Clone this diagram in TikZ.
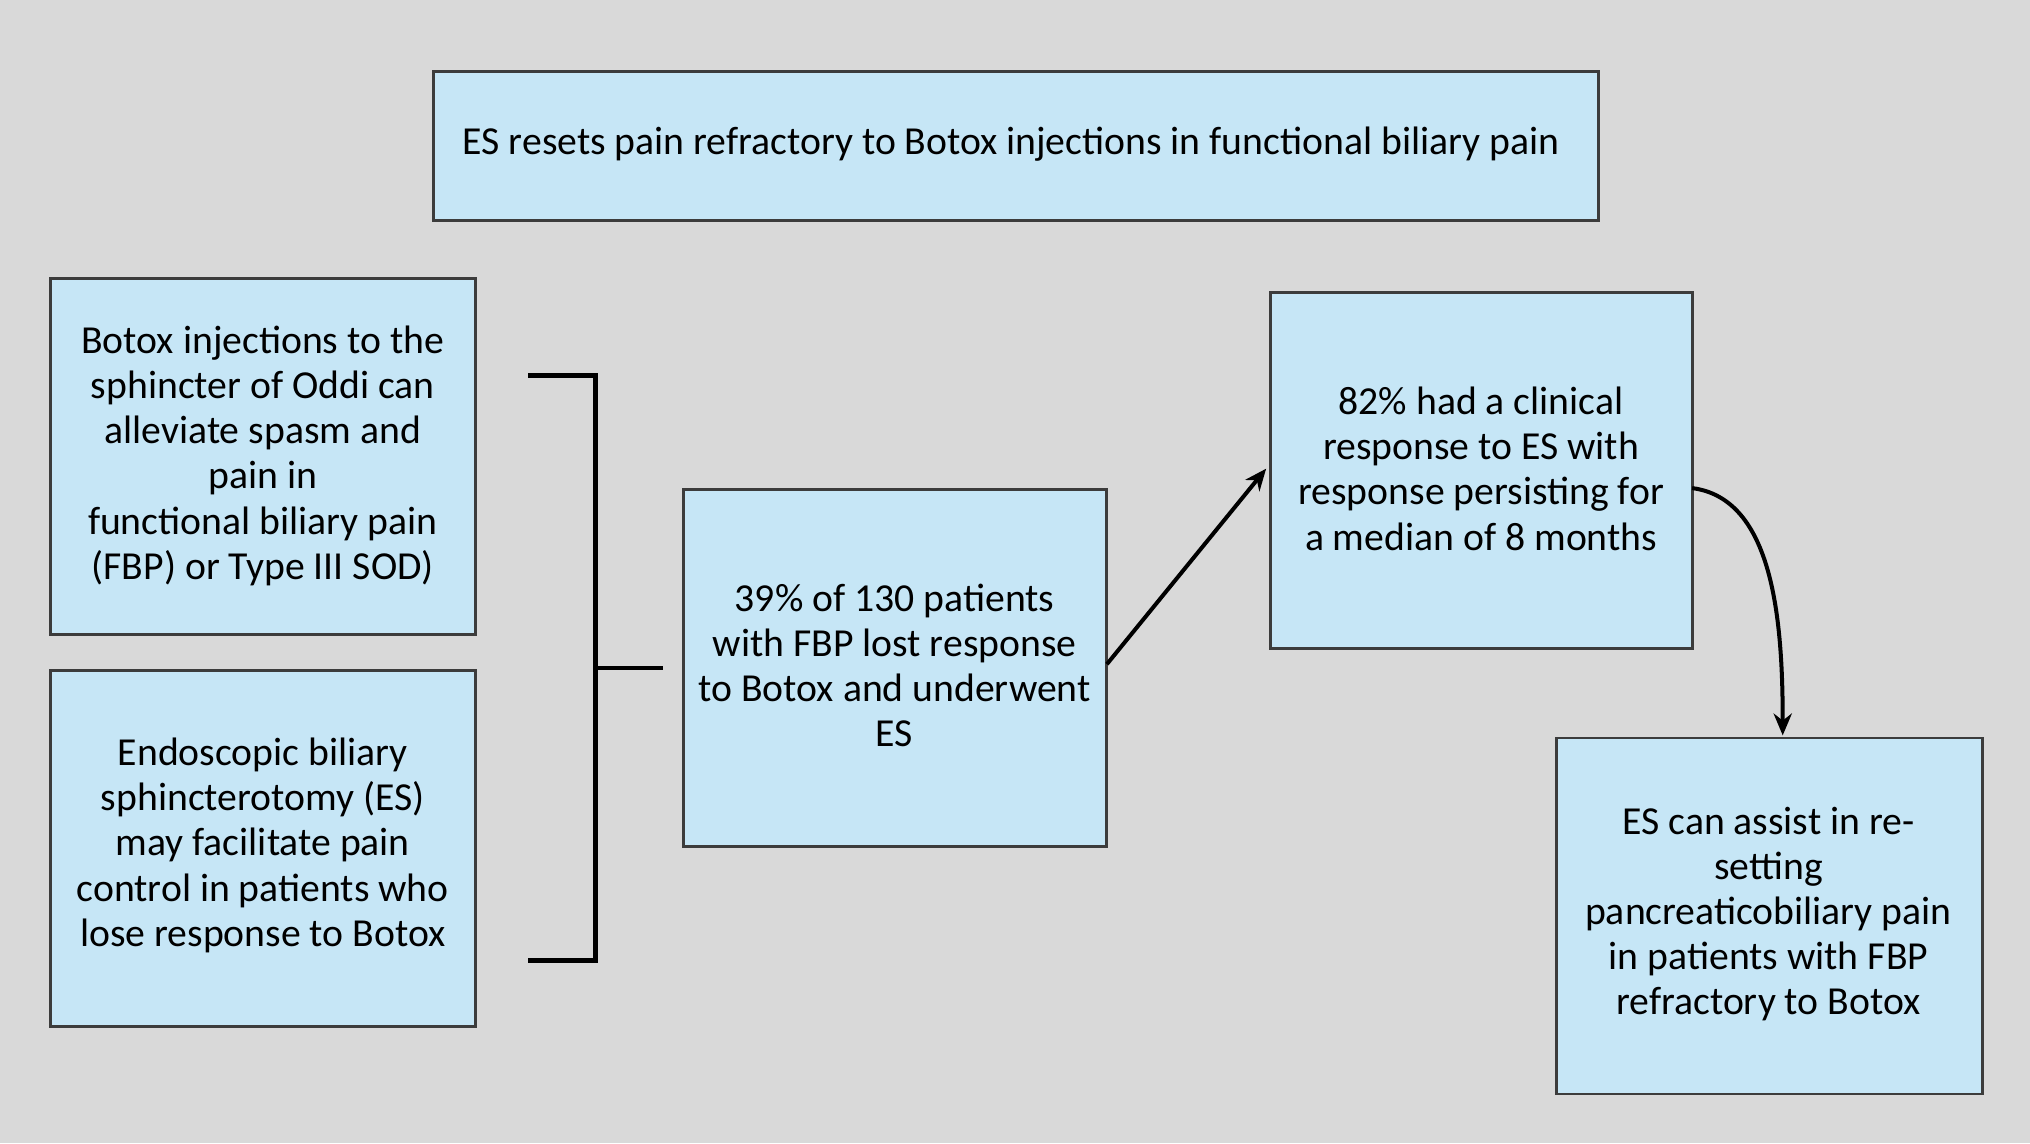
\documentclass[tikz,border=0pt]{standalone}
\usepackage{fontspec}
\setmainfont{Carlito}
\usetikzlibrary{arrows.meta}
\definecolor{bg}{RGB}{217,217,217}
\definecolor{boxfill}{RGB}{198,230,246}
\definecolor{boxline}{RGB}{60,60,60}
\begin{document}
\begin{tikzpicture}[x=0.0125cm,y=-0.0125cm,
  box/.style={draw=boxline,fill=boxfill,line width=0.8pt,inner sep=0pt},
  txt/.style={align=center,font=\fontsize{10.9}{12.4}\selectfont},
  ln/.style={line width=1.3pt,black},
  arr/.style={line width=1.1pt,-{Stealth[length=6pt,width=5pt]}}]
\fill[bg] (0,0) rectangle (1568,883);
\useasboundingbox (0,0) rectangle (1568,883);
% boxes
\draw[box] (335,55) rectangle (1235,170);
\node[txt] (t) at (781,111) {ES resets pain refractory to Botox injections in functional biliary pain};
\draw[box] (39,215) rectangle (367,490);
\node[txt] (a) at (203,352) {Botox injections to the\\sphincter of Oddi can\\alleviate spasm and\\pain in\\functional biliary pain\\(FBP) or Type III SOD)};
\draw[box] (39,518) rectangle (367,793);
\node[txt] (b) at (203,653) {Endoscopic biliary\\sphincterotomy (ES)\\may facilitate pain\\control in patients who\\lose response to Botox};
\draw[box] (528,378) rectangle (855,654);
\node[txt] (c) at (691,514) {39\% of 130 patients\\with FBP lost response\\to Botox and underwent\\ES};
\draw[box] (981,226) rectangle (1307,501);
\node[txt] (d) at (1144,362) {82\% had a clinical\\response to ES with\\response persisting for\\a median of 8 months};
\draw[box] (1202,570) rectangle (1531,845);
\node[txt] (e) at (1366,706) {ES can assist in re-\\setting\\pancreaticobiliary pain\\in patients with FBP\\refractory to Botox};
% bracket
\coordinate (b1) at (408,290);
\coordinate (b2) at (460,290);
\coordinate (b3) at (460,742);
\coordinate (b4) at (408,742);
\coordinate (bm) at (460,516);
\coordinate (bt) at (512,516);
\draw[ln] (b1) -- (b2) -- (b3) -- (b4);
\draw[ln] (bm) -- (bt);
% arrows
\coordinate (cr) at (855,513);
\coordinate (dl) at (978,362);
\draw[arr] (cr) -- (dl);
\coordinate (dr) at (1307,377);
\coordinate (et) at (1377,568);
\draw[arr] (dr) .. controls (1370,385) and (1377,480) .. (et);
\end{tikzpicture}
\end{document}
